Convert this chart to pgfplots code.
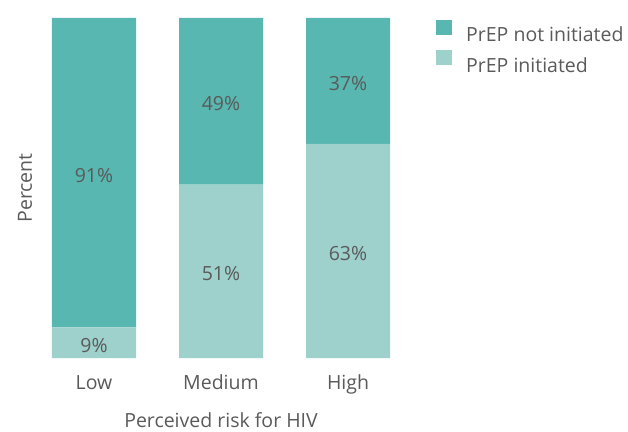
\documentclass[border=0pt]{standalone}
\usepackage{fontspec}
\setmainfont{Open Sans}
\usepackage{pgfplots}
\pgfplotsset{compat=1.18}
\definecolor{dark}{HTML}{58B7B0}
\definecolor{light}{HTML}{9ED0CC}
\definecolor{txt}{HTML}{5A5A5A}
\begin{document}
\begin{tikzpicture}[font=\fontsize{19.5}{23}\selectfont]
\useasboundingbox (0,0) rectangle (628pt,431pt);
\begin{axis}[
  at={(52pt,73pt)}, anchor=south west,
  scale only axis, width=338pt, height=340pt,
  ybar stacked, bar width=84pt,
  xmin=-0.3307, xmax=2.3307, ymin=0, ymax=100,
  enlargelimits=false, clip=false,
  axis line style={draw=none},
  xtick={0,1,2}, xticklabels={Low,Medium,High},
  major tick length=0pt, ytick=\empty,
  xticklabel style={anchor=base, yshift=-31pt, text=txt},
  xlabel={Perceived risk for HIV},
  xlabel style={at={([yshift=-69pt]axis description cs:0.5,0)}, anchor=base, text=txt},
  ylabel={Percent},
  ylabel style={at={([xshift=-20pt]axis description cs:0,0.5)}, anchor=base, rotate=0, text=txt},
  legend style={at={(axis description cs:1.1361,0.994)}, anchor=north west, draw=none, fill=none,
    inner sep=0pt, row sep=7pt, nodes={inner sep=0pt, text=txt},
    /tikz/every odd column/.append style={column sep=14pt}},
  legend cell align=left,
  reverse legend,
  sq/.style={legend image code/.code={\fill[##1] (0pt,0pt) rectangle (16pt,15pt);}},
]
\addplot[fill=light, draw=none, sq] coordinates {(0,9) (1,51) (2,63)};
\addlegendentry{PrEP initiated}
\addplot[fill=dark, draw=none, sq] coordinates {(0,91) (1,49) (2,37)};
\addlegendentry{PrEP not initiated}
\coordinate (l1) at (axis cs:0,4.5);
\coordinate (l2) at (axis cs:1,25.5);
\coordinate (l3) at (axis cs:2,31.5);
\coordinate (u1) at (axis cs:0,54.5);
\coordinate (u2) at (axis cs:1,75.5);
\coordinate (u3) at (axis cs:2,81.5);
\end{axis}
\begin{scope}[every node/.style={text=txt, yshift=-2.5pt}]
\node at (l1) {9\%};
\node at (l2) {51\%};
\node at (l3) {63\%};
\node at (u1) {91\%};
\node at (u2) {49\%};
\node at (u3) {37\%};
\end{scope}
\end{tikzpicture}
\end{document}
